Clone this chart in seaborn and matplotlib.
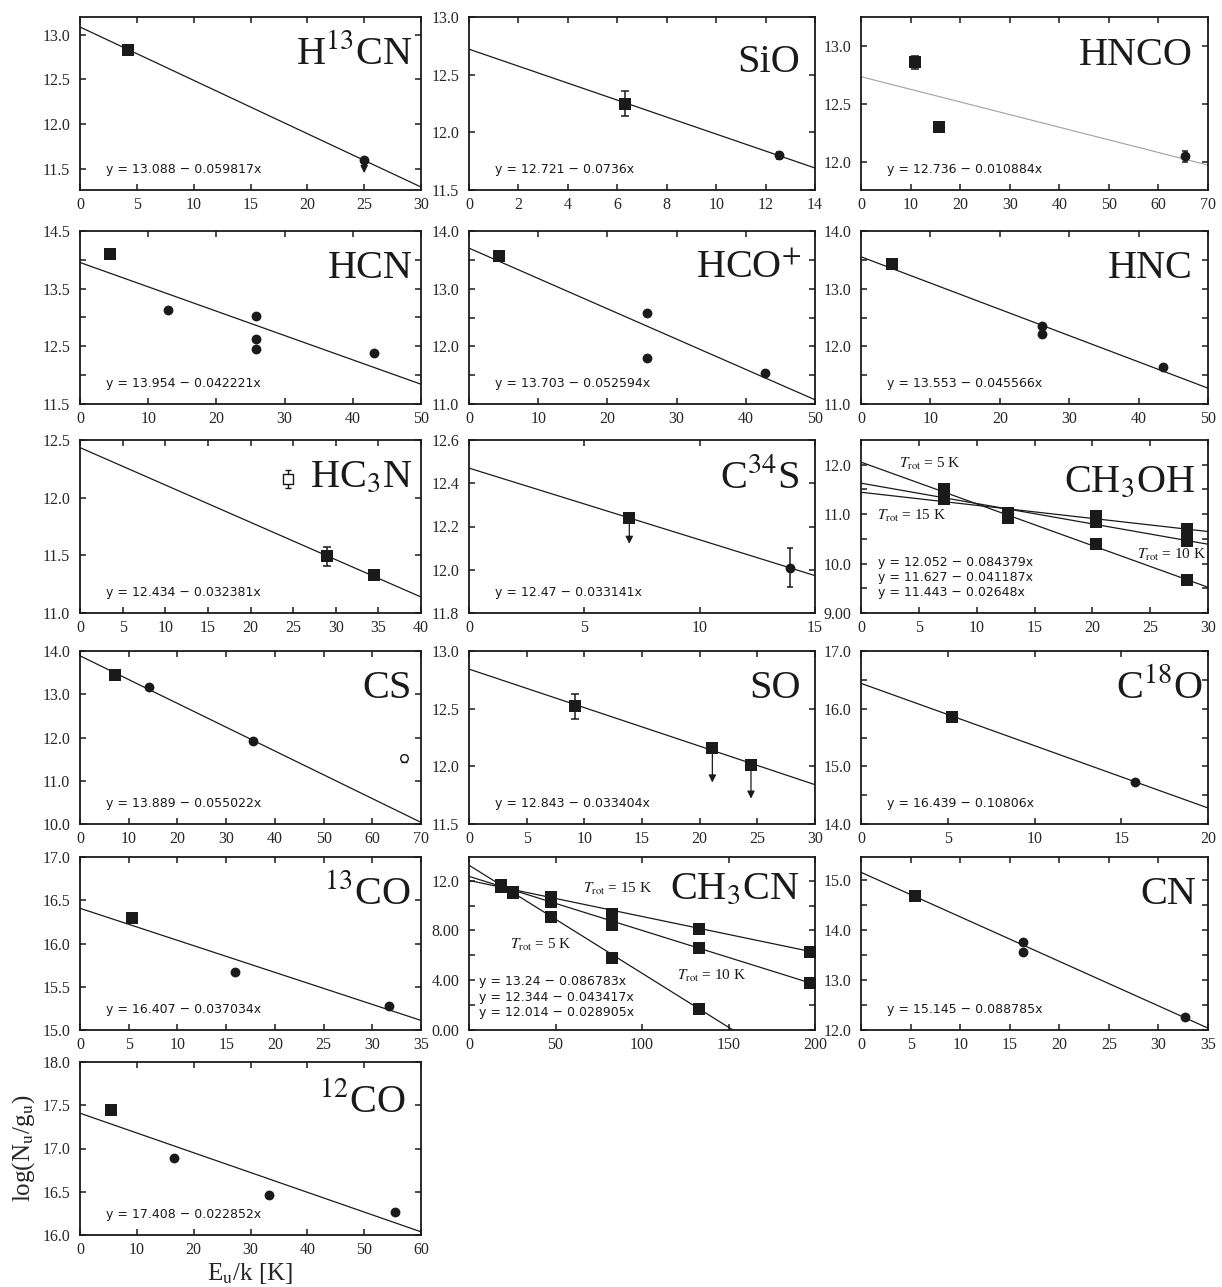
import matplotlib
matplotlib.use("Agg")
import matplotlib.pyplot as plt
import numpy as np
import seaborn as sns

# ---------------- data ----------------
# fits are (intercept, slope) of log(Nu/gu) against Eu/k

h13cn_fit = [(13.088, -0.059817)]
h13cn_sq_x, h13cn_sq_y, h13cn_sq_err = [4.25], [12.83], [0.02]
h13cn_lim_x, h13cn_lim_y, h13cn_lim_tip = [25.0], [11.60], [11.45]

sio_fit = [(12.721, -0.0736)]
sio_sq_x, sio_sq_y, sio_sq_err = [6.3], [12.25], [0.11]
sio_ci_x, sio_ci_y, sio_ci_err = [12.55], [11.80], [0.03]

hnco_fit = [(12.736, -0.010884)]
hnco_sq_x, hnco_sq_y, hnco_sq_err = [10.8, 15.8], [12.86, 12.30], [0.055, 0.03]
hnco_ci_x, hnco_ci_y, hnco_ci_err = [65.4], [12.05], [0.05]

hcn_fit = [(13.954, -0.042221)]
hcn_sq_x, hcn_sq_y = [4.4], [14.10]
hcn_ci_x = [12.9, 25.8, 25.8, 25.8, 43.1]
hcn_ci_y = [13.13, 13.03, 12.63, 12.46, 12.38]

hcop_fit = [(13.703, -0.052594)]
hcop_sq_x, hcop_sq_y = [4.3], [13.57]
hcop_ci_x = [25.7, 25.7, 42.8]
hcop_ci_y = [12.58, 11.80, 11.54]

hnc_fit = [(13.553, -0.045566)]
hnc_sq_x, hnc_sq_y = [4.4], [13.42]
hnc_ci_x = [26.1, 26.1, 43.5]
hnc_ci_y = [12.36, 12.22, 11.64]

hc3n_fit = [(12.434, -0.032381)]
hc3n_sq_x, hc3n_sq_y, hc3n_sq_err = [29.0, 34.5], [11.49, 11.33], [0.08, 0.0]
hc3n_open_x, hc3n_open_y, hc3n_open_err = [24.4], [12.16], [0.08]

c34s_fit = [(12.47, -0.033141)]
c34s_lim_x, c34s_lim_y, c34s_lim_tip = [6.95], [12.24], [12.12]
c34s_ci_x, c34s_ci_y, c34s_ci_err = [13.9], [12.01], [0.09]

ch3oh_fit = [(12.052, -0.084379), (11.627, -0.041187), (11.443, -0.02648)]
ch3oh_x = [7.2, 12.75, 20.3, 28.2]
ch3oh_y_5k = [11.50, 10.92, 10.40, 9.67]
ch3oh_y_10k = [11.38, 10.98, 10.84, 10.46]
ch3oh_y_15k = [11.30, 11.03, 10.97, 10.70]
ch3oh_labels = ["$T_{\\rm rot}$ = 5 K", "$T_{\\rm rot}$ = 10 K", "$T_{\\rm rot}$ = 15 K"]

cs_fit = [(13.889, -0.055022)]
cs_sq_x, cs_sq_y = [7.2], [13.44]
cs_ci_x, cs_ci_y = [14.2, 35.5], [13.17, 11.93]
cs_open_x, cs_open_y, cs_open_err = [66.6], [11.52], [0.08]

so_fit = [(12.843, -0.033404)]
so_sq_x, so_sq_y, so_sq_err = [9.2], [12.52], [0.11]
so_lim_x, so_lim_y, so_lim_tip = [21.1, 24.45], [12.16, 12.01], [11.86, 11.72]

c18o_fit = [(16.439, -0.10806)]
c18o_sq_x, c18o_sq_y = [5.27], [15.86]
c18o_ci_x, c18o_ci_y = [15.8], [14.72]

co13_fit = [(16.407, -0.037034)]
co13_sq_x, co13_sq_y = [5.3], [16.29]
co13_ci_x, co13_ci_y, co13_ci_err = [15.9, 31.7], [15.67, 15.28], [0.02, 0.02]

ch3cn_fit = [(13.24, -0.086783), (12.344, -0.043417), (12.014, -0.028905)]
ch3cn_x = [18.3, 25.5, 47.3, 82.7, 132.9, 197.1]
ch3cn_y_5k = [11.65, 11.10, 9.10, 5.80, 1.70, -3.9]
ch3cn_y_10k = [11.55, 11.05, 10.30, 8.45, 6.60, 3.80]
ch3cn_y_15k = [11.50, 11.00, 10.70, 9.30, 8.15, 6.30]
ch3cn_labels = ch3oh_labels

cn_fit = [(15.145, -0.088785)]
cn_sq_x, cn_sq_y = [5.4], [14.68]
cn_ci_x, cn_ci_y = [16.3, 16.3, 32.7], [13.75, 13.55, 12.25]

co12_fit = [(17.408, -0.022852)]
co12_sq_x, co12_sq_y = [5.5], [17.45]
co12_ci_x, co12_ci_y, co12_ci_err = [16.6, 33.3, 55.4], [16.89, 16.46, 16.27], [0.02, 0.02, 0.02]

# ---------------- style ----------------
sns.set_theme(style="ticks")
plt.rcParams["font.family"] = ["Liberation Serif", "DejaVu Serif"]
plt.rcParams["mathtext.fontset"] = "stix"
INK = "#1a1a1a"
EQ_FONT = ["DejaVu Sans"]
LABEL_SIZE = 29
TROT_SIZE = 11

W, H = 1222, 1287
fig = plt.figure(figsize=(W / 100, H / 100), dpi=100)

col_left = [80, 469, 861]
col_width = [341, 346, 347]
row_top = [17, 231, 440, 651, 857, 1062]
PH = 173


def new_axes(row, col):
    l, w, t = col_left[col], col_width[col], row_top[row]
    return fig.add_axes([l / W, 1 - (t + PH) / H, w / W, PH / H])


def style_axes(ax, xlim, xstep, ylim, yticks, yminor=None):
    ax.set_xlim(xlim)
    ax.set_ylim(ylim)
    ax.set_xticks(np.arange(xlim[0], xlim[1] + 1e-9, xstep))
    ax.set_yticks(yticks)
    if yminor is not None:
        ax.set_yticks(yminor, minor=True)
    ax.set_xticklabels([f"{v:g}" for v in ax.get_xticks()])
    ax.set_yticklabels([format(v, "#.3g") for v in yticks])
    ax.tick_params(which="both", direction="in", top=True, right=True,
                   length=4.5, width=1.1, labelsize=11.5, color=INK)
    ax.tick_params(axis="y", pad=7)
    ax.tick_params(axis="x", pad=5)
    for sp in ax.spines.values():
        sp.set_linewidth(1.3)
        sp.set_color(INK)
    ax.set_xlabel("")
    ax.set_ylabel("")


def fit_lines(ax, fits, xlim, color=INK, lw=0.9):
    xs = np.array(xlim, dtype=float)
    for a, b in fits:
        sns.lineplot(x=xs, y=a + b * xs, color=color, lw=lw, ax=ax, zorder=2)


def squares(ax, x, y, err=None, s=75):
    if err is not None:
        ax.errorbar(x, y, yerr=err, fmt="none", ecolor=INK, elinewidth=1.1,
                    capsize=3, capthick=1.1, zorder=3)
    sns.scatterplot(x=x, y=y, marker="s", s=s, color=INK, edgecolor=INK,
                    linewidth=0, ax=ax, zorder=4)


def circles(ax, x, y, err=None, s=50):
    if err is not None:
        ax.errorbar(x, y, yerr=err, fmt="none", ecolor=INK, elinewidth=1.1,
                    capsize=2.5, capthick=1.1, zorder=3)
    sns.scatterplot(x=x, y=y, marker="o", s=s, color=INK, edgecolor=INK,
                    linewidth=0, ax=ax, zorder=4)


def open_marker(ax, x, y, err, marker):
    ax.errorbar(x, y, yerr=err, fmt="none", ecolor=INK, elinewidth=1.0,
                capsize=2.5, capthick=1.0, zorder=3)
    sns.scatterplot(x=x, y=y, marker=marker, s=45 if marker == "s" else 30,
                    color="white", edgecolor=INK, linewidth=1.0, ax=ax, zorder=4)


def limits(ax, x, y, tip):
    for xi, yi, ti in zip(x, y, tip):
        ax.annotate("", xy=(xi, ti), xytext=(xi, yi),
                    arrowprops=dict(arrowstyle="-|>", color=INK, lw=0.9,
                                    mutation_scale=11, shrinkA=0, shrinkB=0),
                    zorder=3)


def label(ax, text, x=0.965, y=0.73):
    ax.text(x, y, text, transform=ax.transAxes, ha="right", va="baseline",
            fontsize=LABEL_SIZE, color=INK)


def trot(ax, text, x, y):
    ax.text(x, y, text, transform=ax.transAxes, fontsize=TROT_SIZE,
            va="center", color=INK)


def equation(ax, fits, x=0.075, y=0.12, dy=0.085):
    lines = [f"y = {a:g} \u2212 {-b:g}x" for a, b in fits]
    for i, s in enumerate(lines):
        ax.text(x, y + (len(lines) - 1 - i) * dy, s, transform=ax.transAxes,
                ha="left", va="center", fontsize=9, family=EQ_FONT, color=INK)


# ---- row 1 ----
ax = new_axes(0, 0)
xl = (0, 30)
fit_lines(ax, h13cn_fit, xl)
squares(ax, h13cn_sq_x, h13cn_sq_y)
limits(ax, h13cn_lim_x, h13cn_lim_y, h13cn_lim_tip)
circles(ax, h13cn_lim_x, h13cn_lim_y)
style_axes(ax, xl, 5, (11.26, 13.2), [11.5, 12.0, 12.5, 13.0])
label(ax, "H$^{13}$CN", x=0.975)
equation(ax, h13cn_fit)

ax = new_axes(0, 1)
xl = (0, 14)
fit_lines(ax, sio_fit, xl)
squares(ax, sio_sq_x, sio_sq_y, sio_sq_err)
circles(ax, sio_ci_x, sio_ci_y, sio_ci_err)
style_axes(ax, xl, 2, (11.5, 13.0), [11.5, 12.0, 12.5, 13.0])
label(ax, "SiO", x=0.957, y=0.68)
equation(ax, sio_fit)

ax = new_axes(0, 2)
xl = (0, 70)
fit_lines(ax, hnco_fit, xl, color="#a0a0a0", lw=0.8)
squares(ax, hnco_sq_x, hnco_sq_y, hnco_sq_err)
circles(ax, hnco_ci_x, hnco_ci_y, hnco_ci_err)
style_axes(ax, xl, 10, (11.76, 13.25), [12.0, 12.5, 13.0])
label(ax, "HNCO", x=0.955, y=0.72)
equation(ax, hnco_fit)

# ---- row 2 ----
ax = new_axes(1, 0)
xl = (0, 50)
fit_lines(ax, hcn_fit, xl)
squares(ax, hcn_sq_x, hcn_sq_y)
circles(ax, hcn_ci_x, hcn_ci_y)
style_axes(ax, xl, 10, (11.5, 14.5), [11.5, 12.5, 13.5, 14.5], [12.0, 13.0, 14.0])
label(ax, "HCN", x=0.975)
equation(ax, hcn_fit)

ax = new_axes(1, 1)
fit_lines(ax, hcop_fit, xl)
squares(ax, hcop_sq_x, hcop_sq_y)
circles(ax, hcop_ci_x, hcop_ci_y)
style_axes(ax, xl, 10, (11.0, 14.0), [11.0, 12.0, 13.0, 14.0], [11.5, 12.5, 13.5])
label(ax, "HCO$^{+}$", x=0.96)
equation(ax, hcop_fit)

ax = new_axes(1, 2)
fit_lines(ax, hnc_fit, xl)
squares(ax, hnc_sq_x, hnc_sq_y)
circles(ax, hnc_ci_x, hnc_ci_y)
style_axes(ax, xl, 10, (11.0, 14.0), [11.0, 12.0, 13.0, 14.0], [11.5, 12.5, 13.5])
label(ax, "HNC", x=0.955)
equation(ax, hnc_fit)

# ---- row 3 ----
ax = new_axes(2, 0)
xl = (0, 40)
fit_lines(ax, hc3n_fit, xl)
squares(ax, hc3n_sq_x, hc3n_sq_y, hc3n_sq_err)
open_marker(ax, hc3n_open_x, hc3n_open_y, hc3n_open_err, "s")
style_axes(ax, xl, 5, (11.0, 12.5), [11.0, 11.5, 12.0, 12.5])
label(ax, "HC$_3$N", x=0.975)
equation(ax, hc3n_fit)

ax = new_axes(2, 1)
xl = (0, 15)
fit_lines(ax, c34s_fit, xl)
limits(ax, c34s_lim_x, c34s_lim_y, c34s_lim_tip)
squares(ax, c34s_lim_x, c34s_lim_y)
circles(ax, c34s_ci_x, c34s_ci_y, c34s_ci_err)
style_axes(ax, xl, 5, (11.8, 12.6), [11.8, 12.0, 12.2, 12.4, 12.6])
label(ax, "C$^{34}$S", x=0.955, y=0.72)
equation(ax, c34s_fit)

ax = new_axes(2, 2)
xl = (0, 30)
fit_lines(ax, ch3oh_fit, xl)
for ys in (ch3oh_y_5k, ch3oh_y_10k, ch3oh_y_15k):
    squares(ax, ch3oh_x, ys, s=85)
style_axes(ax, xl, 5, (9.0, 12.5), [9.0, 10.0, 11.0, 12.0], [9.5, 10.5, 11.5])
label(ax, "CH$_3$OH", x=0.965, y=0.70)
equation(ax, ch3oh_fit, x=0.05, y=0.12, dy=0.085)
trot(ax, ch3oh_labels[0], 0.11, 0.86)
trot(ax, ch3oh_labels[2], 0.045, 0.56)
trot(ax, ch3oh_labels[1], 0.795, 0.335)

# ---- row 4 ----
ax = new_axes(3, 0)
xl = (0, 70)
fit_lines(ax, cs_fit, xl)
squares(ax, cs_sq_x, cs_sq_y)
circles(ax, cs_ci_x, cs_ci_y)
open_marker(ax, cs_open_x, cs_open_y, cs_open_err, "o")
style_axes(ax, xl, 10, (10.0, 14.0), [10.0, 11.0, 12.0, 13.0, 14.0])
label(ax, "CS", x=0.972)
equation(ax, cs_fit)

ax = new_axes(3, 1)
xl = (0, 30)
fit_lines(ax, so_fit, xl)
squares(ax, so_sq_x, so_sq_y, so_sq_err)
limits(ax, so_lim_x, so_lim_y, so_lim_tip)
squares(ax, so_lim_x, so_lim_y)
style_axes(ax, xl, 5, (11.5, 13.0), [11.5, 12.0, 12.5, 13.0])
label(ax, "SO", x=0.96)
equation(ax, so_fit)

ax = new_axes(3, 2)
xl = (0, 20)
fit_lines(ax, c18o_fit, xl)
squares(ax, c18o_sq_x, c18o_sq_y)
circles(ax, c18o_ci_x, c18o_ci_y)
style_axes(ax, xl, 5, (14.0, 17.0), [14.0, 15.0, 16.0, 17.0], [14.5, 15.5, 16.5])
label(ax, "C$^{18}$O", x=0.985)
equation(ax, c18o_fit)

# ---- row 5 ----
ax = new_axes(4, 0)
xl = (0, 35)
fit_lines(ax, co13_fit, xl)
squares(ax, co13_sq_x, co13_sq_y)
circles(ax, co13_ci_x, co13_ci_y, co13_ci_err)
style_axes(ax, xl, 5, (15.0, 17.0), [15.0, 15.5, 16.0, 16.5, 17.0])
label(ax, "$^{13}$CO", x=0.97)
equation(ax, co13_fit)

ax = new_axes(4, 1)
xl = (0, 200)
fit_lines(ax, ch3cn_fit, xl)
for ys in (ch3cn_y_5k, ch3cn_y_10k, ch3cn_y_15k):
    squares(ax, ch3cn_x, ys, s=85)
style_axes(ax, xl, 50, (0.0, 13.9), [0.0, 4.0, 8.0, 12.0], [2.0, 6.0, 10.0])
label(ax, "CH$_3$CN", x=0.955, y=0.76)
equation(ax, ch3cn_fit, x=0.03, y=0.10, dy=0.09)
trot(ax, ch3cn_labels[2], 0.33, 0.815)
trot(ax, ch3cn_labels[0], 0.118, 0.49)
trot(ax, ch3cn_labels[1], 0.60, 0.31)

ax = new_axes(4, 2)
xl = (0, 35)
fit_lines(ax, cn_fit, xl)
squares(ax, cn_sq_x, cn_sq_y)
circles(ax, cn_ci_x, cn_ci_y)
style_axes(ax, xl, 5, (12.0, 15.45), [12.0, 13.0, 14.0, 15.0], [12.5, 13.5, 14.5])
label(ax, "CN", x=0.965)
equation(ax, cn_fit)

# ---- row 6 ----
ax = new_axes(5, 0)
xl = (0, 60)
fit_lines(ax, co12_fit, xl)
squares(ax, co12_sq_x, co12_sq_y)
circles(ax, co12_ci_x, co12_ci_y, co12_ci_err)
style_axes(ax, xl, 10, (16.0, 18.0), [16.0, 16.5, 17.0, 17.5, 18.0])
label(ax, "$^{12}$CO", x=0.955, y=0.71)
equation(ax, co12_fit)
ax.set_xlabel("E$_{\\rm u}$/k [K]", fontsize=18, labelpad=2)
ax.set_ylabel("log(N$_{\\rm u}$/g$_{\\rm u}$)", fontsize=18, labelpad=4)

fig.savefig("out.png", dpi=100)
